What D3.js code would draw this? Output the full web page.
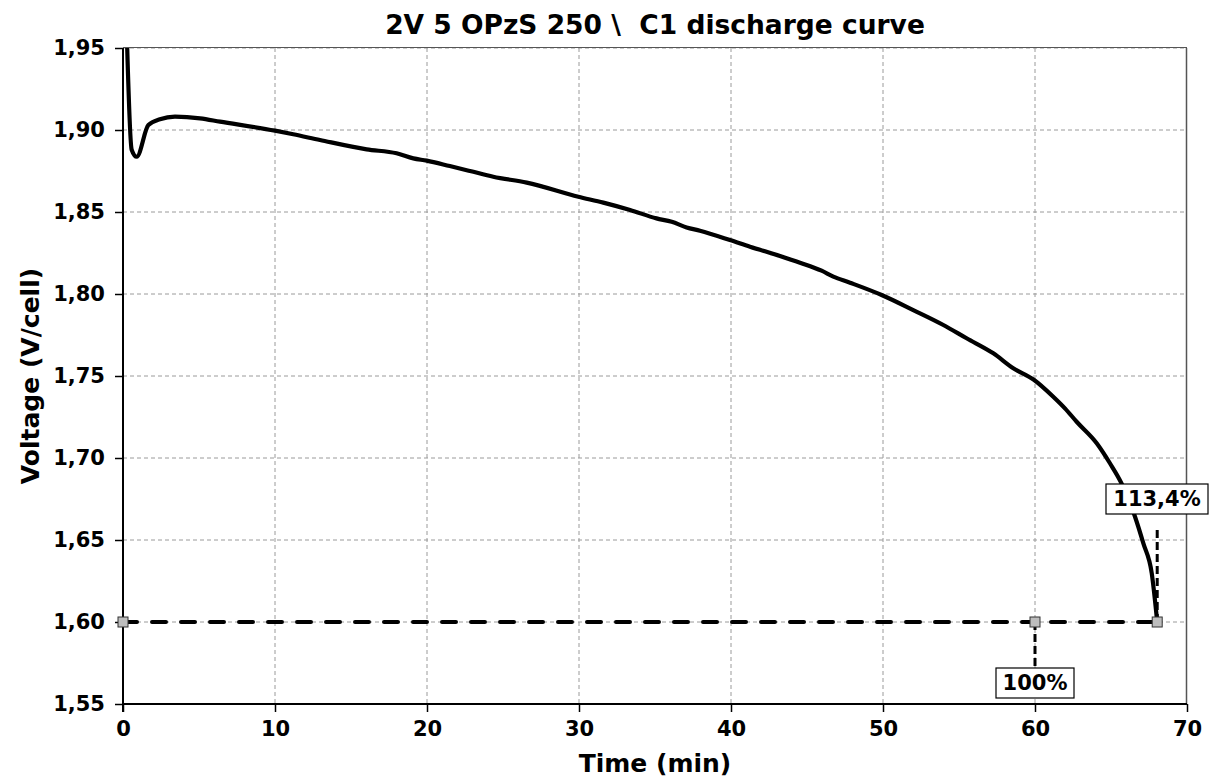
<!DOCTYPE html>
<html>
<head>
<meta charset="utf-8">
<script src="https://cdn.jsdelivr.net/npm/d3@7"></script>
<style>
  body { margin: 0; background: #fff; }
  text { font-family: "DejaVu Sans", Verdana, sans-serif; font-weight: bold; }
</style>
</head>
<body>
<svg id="chart" width="1213" height="780"></svg>
<script>
// ---- data ----
const timeMin = [0.2, 0.57, 0.9, 1.67, 2.43, 3.42, 5.07, 6.38, 10, 11.2, 12.96, 16.03, 18, 19.1, 19.98, 21.5, 22.83, 24.36, 26.56, 29.96, 31.6, 33.36, 35.1, 36.1, 37.08, 37.96, 39.93, 41.25, 43.22, 44.54, 45.96, 46.73, 47.83, 49.91, 51.99, 53.97, 55.5, 57.26, 58.57, 59.9, 61.2, 61.97, 62.74, 64.06, 64.93, 65.7, 66.58, 67.13, 67.68, 68.04];
const voltage = [1.975, 1.888, 1.8837, 1.903, 1.9065, 1.9081, 1.9071, 1.9051, 1.8996, 1.8974, 1.8939, 1.8882, 1.8858, 1.8827, 1.8813, 1.878, 1.875, 1.8715, 1.8679, 1.8593, 1.8557, 1.8512, 1.8461, 1.844, 1.8406, 1.8386, 1.8329, 1.8288, 1.8232, 1.8191, 1.8142, 1.8106, 1.8069, 1.7994, 1.7902, 1.7811, 1.773, 1.7638, 1.7547, 1.7479, 1.7374, 1.7303, 1.7221, 1.709, 1.6968, 1.6844, 1.6642, 1.6479, 1.6297, 1.6];
const cutoffVoltage = 1.60;
const markerTimes = [0, 60, 68.04];
const markerLabels = ["", "100%", "113,4%"];
const xTicks = [0, 10, 20, 30, 40, 50, 60, 70];
const yTicks = [1.55, 1.60, 1.65, 1.70, 1.75, 1.80, 1.85, 1.90, 1.95];
const titleText = "2V 5 OPzS 250 \\  C1 discharge curve";
const xTitle = "Time (min)";
const yTitle = "Voltage (V/cell)";

// ---- layout ----
const svg = d3.select("#chart");
const L = 123, R = 1187, T = 48, B = 704;
const x = d3.scaleLinear().domain([0, 70]).range([L, R]);
const y = d3.scaleLinear().domain([1.55, 1.95]).range([B, T]);
const fmt = v => d3.format(".2f")(v).replace(".", ",");

// gridlines
const grid = svg.append("g");
grid.selectAll("line.gx").data(xTicks.slice(1, -1)).join("line")
  .attr("x1", d => x(d)).attr("x2", d => x(d)).attr("y1", T).attr("y2", B)
  .attr("stroke", "#9a9a9a").attr("stroke-width", 1).attr("stroke-dasharray", "4,3");
grid.selectAll("line.gy").data(yTicks.slice(1)).join("line")
  .attr("x1", L).attr("x2", R).attr("y1", d => y(d)).attr("y2", d => y(d))
  .attr("stroke", "#9a9a9a").attr("stroke-width", 1).attr("stroke-dasharray", "4,3");

// plot border top/right
svg.append("line").attr("x1", L).attr("x2", R).attr("y1", T - 0.5).attr("y2", T - 0.5)
  .attr("stroke", "#555").attr("stroke-width", 1);
svg.append("line").attr("x1", R - 0.5).attr("x2", R - 0.5).attr("y1", T).attr("y2", B)
  .attr("stroke", "#555").attr("stroke-width", 1.5);

// axes
const xAxis = svg.append("g").attr("transform", `translate(0,${B})`)
  .call(d3.axisBottom(x).tickValues(xTicks).tickSize(8).tickPadding(9).tickFormat(d3.format("d")));
const yAxis = svg.append("g").attr("transform", `translate(${L},0)`)
  .call(d3.axisLeft(y).tickValues(yTicks).tickSize(8).tickPadding(10).tickFormat(fmt));
[xAxis, yAxis].forEach(a => {
  a.select(".domain").attr("stroke", "#000").attr("stroke-width", 2);
  a.selectAll(".tick line").attr("stroke", "#000").attr("stroke-width", 1.5);
  a.selectAll(".tick text").attr("font-size", 21).attr("font-weight", "bold")
    .attr("font-family", "'DejaVu Sans', Verdana, sans-serif").attr("fill", "#000");
});
xAxis.select(".domain").attr("d", `M${L},0H${R}`);
yAxis.select(".domain").attr("d", `M0,${B + 8}V${T}`);

// clip
svg.append("clipPath").attr("id", "clip").append("rect")
  .attr("x", L).attr("y", T).attr("width", R - L).attr("height", B - T);

// cutoff dashed line
svg.append("line")
  .attr("x1", x(0)).attr("x2", x(markerTimes[2])).attr("y1", y(cutoffVoltage)).attr("y2", y(cutoffVoltage))
  .attr("stroke", "#000").attr("stroke-width", 4).attr("stroke-dasharray", "14,15")
  .attr("stroke-linecap", "round");

// discharge curve
const pts = timeMin.map((t, i) => [t, voltage[i]]);
svg.append("path").datum(pts)
  .attr("clip-path", "url(#clip)")
  .attr("fill", "none").attr("stroke", "#000").attr("stroke-width", 4.2)
  .attr("stroke-linejoin", "round")
  .attr("d", d3.line().x(d => x(d[0])).y(d => y(d[1])).curve(d3.curveMonotoneX));

// leader lines
svg.append("line").attr("x1", x(markerTimes[1])).attr("x2", x(markerTimes[1]))
  .attr("y1", y(cutoffVoltage)).attr("y2", 668)
  .attr("stroke", "#000").attr("stroke-width", 3).attr("stroke-dasharray", "8,4");
svg.append("line").attr("x1", x(markerTimes[2])).attr("x2", x(markerTimes[2]))
  .attr("y1", y(cutoffVoltage)).attr("y2", 530)
  .attr("stroke", "#000").attr("stroke-width", 3).attr("stroke-dasharray", "8,4");

// markers
svg.selectAll("rect.mk").data(markerTimes).join("rect")
  .attr("x", d => x(d) - 5).attr("y", y(cutoffVoltage) - 5).attr("width", 10).attr("height", 10)
  .attr("fill", "#bdbdbd").attr("stroke", "#333").attr("stroke-width", 1);

// labels
function label(t, cx, cy, w, h) {
  svg.append("rect").attr("x", cx - w / 2).attr("y", cy - h / 2).attr("width", w).attr("height", h)
    .attr("fill", "#fff").attr("stroke", "#000").attr("stroke-width", 1.2);
  svg.append("text").attr("x", cx).attr("y", cy).attr("text-anchor", "middle")
    .attr("dominant-baseline", "central").attr("font-size", 21).text(t);
}
label(markerLabels[1], x(markerTimes[1]), 683, 78, 30);
label(markerLabels[2], 1157, 499, 102, 30);

// titles
svg.append("text").attr("x", (L + R) / 2).attr("y", 34).attr("text-anchor", "middle")
  .attr("font-size", 26.5).style("white-space", "pre").text(titleText);
svg.append("text").attr("x", (L + R) / 2).attr("y", 772).attr("text-anchor", "middle")
  .attr("font-size", 25).text(xTitle);
svg.append("text").attr("transform", `translate(39,${(T + B) / 2}) rotate(-90)`)
  .attr("text-anchor", "middle").attr("font-size", 25).text(yTitle);
</script>
</body>
</html>
